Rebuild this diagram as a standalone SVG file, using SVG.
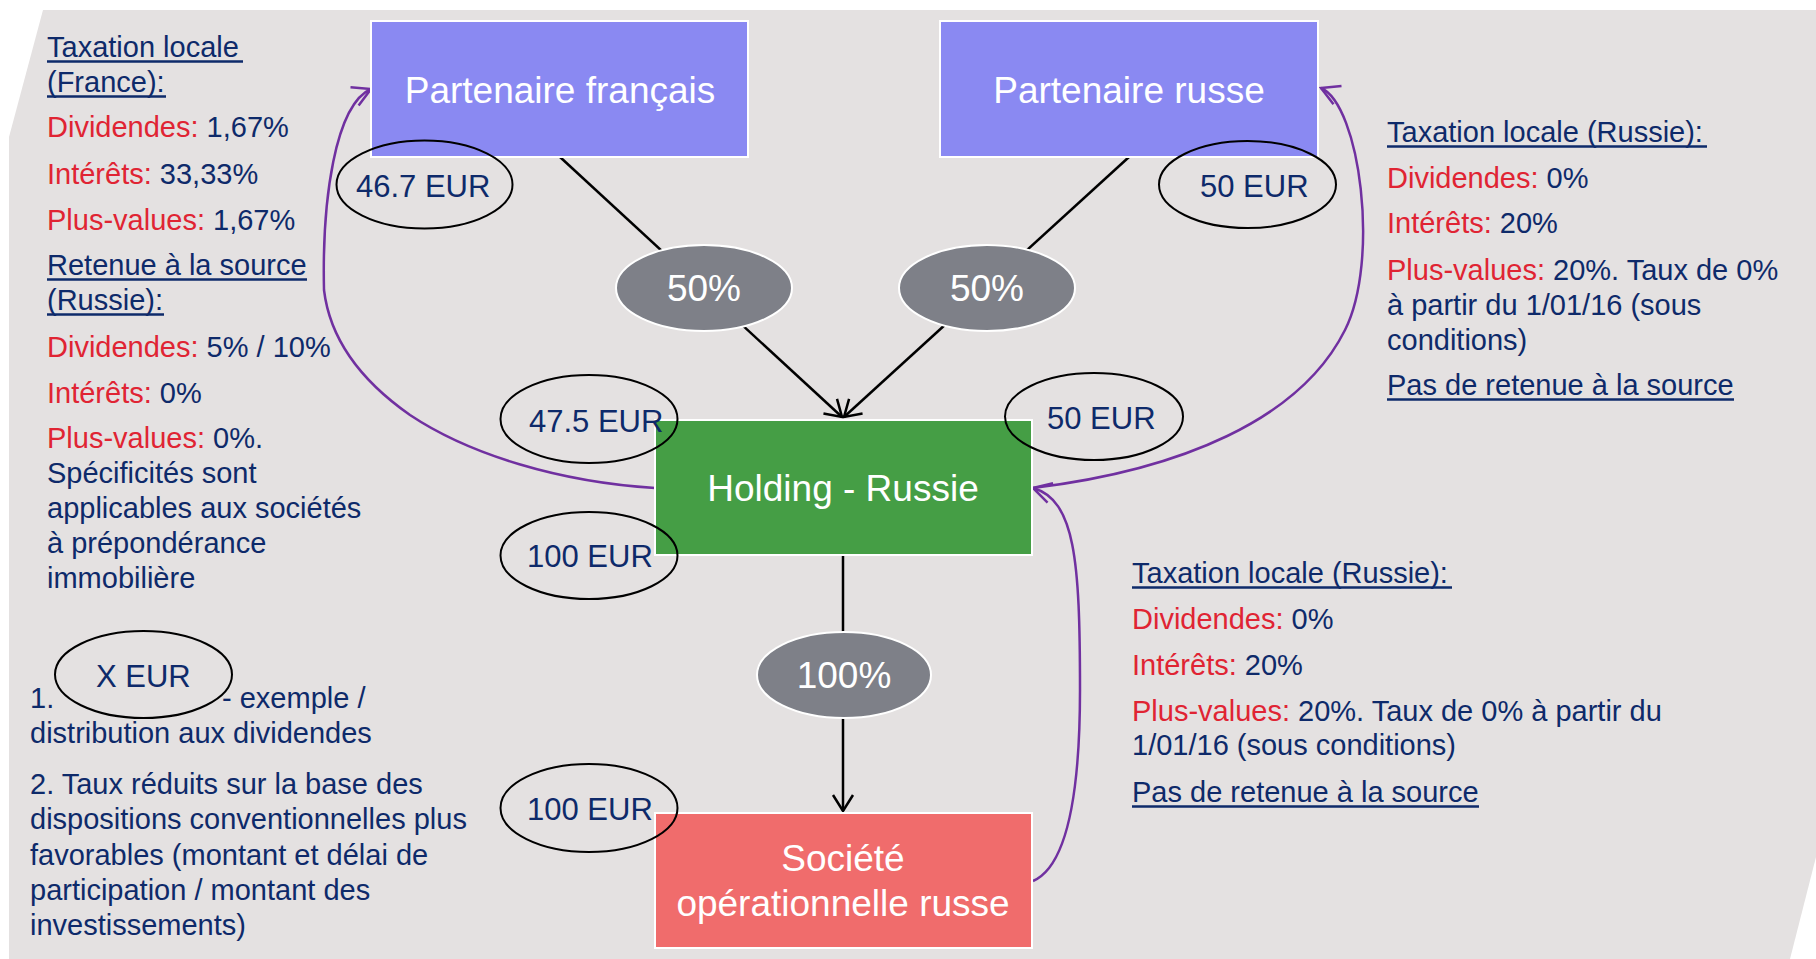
<svg xmlns="http://www.w3.org/2000/svg" width="1816" height="959" viewBox="0 0 1816 959">
  <style>
    .t { font-family: "Liberation Sans", Arial, sans-serif; font-size: 29px; fill: #0e2a6a; }
    .r { fill: #e02433; }
    .ul { stroke: #0e2a6a; stroke-width: 2.7; }
    .box-t { font-family: "Liberation Sans", Arial, sans-serif; font-size: 37px; fill: #ffffff; text-anchor: middle; }
    .eur { fill: none; stroke: #000000; stroke-width: 2; }
    .eur-t { font-family: "Liberation Sans", Arial, sans-serif; font-size: 31px; fill: #0e2a6a; }
    .pct { fill: #7e8088; stroke: #ffffff; stroke-width: 2; }
    .own { fill: none; stroke: #000000; stroke-width: 2.5; marker-end: url(#ah-black); }
    .flow { fill: none; stroke: #7030a0; stroke-width: 2.5; marker-end: url(#ah-purple); }
    .box { stroke: #ffffff; stroke-width: 2; }
  </style>
  <defs>
    <marker id="ah-black" viewBox="-20 -12 22 24" markerWidth="22" markerHeight="24" refX="0" refY="0" orient="auto" markerUnits="userSpaceOnUse">
      <path d="M-16,-10 L0,0 L-16,10" fill="none" stroke="#000000" stroke-width="2.5"/>
    </marker>
    <marker id="ah-purple" viewBox="-22 -13 24 26" markerWidth="24" markerHeight="26" refX="0" refY="0" orient="auto" markerUnits="userSpaceOnUse">
      <path d="M-18,-10 L0,0 L-18,10" fill="none" stroke="#7030a0" stroke-width="2.5"/>
    </marker>
  </defs>

  <!-- slide panel -->
  <polygon points="43,10 1816,10 1816,857 1790,959 9,959 9,137" fill="#e4e1e1"/>

  <!-- ownership links and dividend flows -->
  <g id="connectors">
    <line class="own" x1="560" y1="157" x2="842" y2="417"/>
    <line class="own" x1="1129" y1="157" x2="844" y2="417"/>
    <line class="own" x1="843" y1="555" x2="843" y2="811"/>
    <path class="flow" d="M655,488 C560,482 470,455 410,415 C360,380 330,340 324,290 C322,200 335,105 371,89"/>
    <path class="flow" d="M1033,488 C1180,470 1300,420 1345,330 C1380,260 1360,105 1321,88"/>
    <path class="flow" d="M1033,881 C1070,865 1080,780 1080,690 C1080,560 1075,500 1033,488"/>
  </g>

  <!-- entities -->
  <g id="partenaire-francais">
    <rect class="box" x="371" y="21" width="377" height="136" fill="#8a89f2"/>
    <text class="box-t" x="560" y="103">Partenaire français</text>
  </g>
  <g id="partenaire-russe">
    <rect class="box" x="940" y="21" width="378" height="136" fill="#8a89f2"/>
    <text class="box-t" x="1129" y="103">Partenaire russe</text>
  </g>
  <g id="holding-russie">
    <rect class="box" x="655" y="420" width="377" height="135" fill="#459e45"/>
    <text class="box-t" x="843" y="501">Holding - Russie</text>
  </g>
  <g id="societe-operationnelle">
    <rect class="box" x="655" y="813" width="377" height="135" fill="#f06c6c"/>
    <text class="box-t" x="843" y="871">Société</text>
    <text class="box-t" x="843" y="916">opérationnelle russe</text>
  </g>

  <!-- shareholding percentages -->
  <g id="pct-fr">
    <ellipse class="pct" cx="704" cy="288" rx="88" ry="43"/>
    <text class="box-t" x="704" y="301">50%</text>
  </g>
  <g id="pct-ru">
    <ellipse class="pct" cx="987" cy="288" rx="88" ry="43"/>
    <text class="box-t" x="987" y="301">50%</text>
  </g>
  <g id="pct-100">
    <ellipse class="pct" cx="844" cy="675" rx="87" ry="43"/>
    <text class="box-t" x="844" y="688">100%</text>
  </g>

  <!-- distributed amounts -->
  <g id="eur-fr">
    <ellipse class="eur" cx="424.5" cy="184.5" rx="88" ry="44"/>
    <text class="eur-t" x="356" y="197">46.7 EUR</text>
  </g>
  <g id="eur-ru">
    <ellipse class="eur" cx="1247.5" cy="184.5" rx="88.5" ry="43.5"/>
    <text class="eur-t" x="1200" y="197">50 EUR</text>
  </g>
  <g id="eur-holding-fr">
    <ellipse class="eur" cx="589" cy="419" rx="88.5" ry="44"/>
    <text class="eur-t" x="529" y="432">47.5 EUR</text>
  </g>
  <g id="eur-holding-ru">
    <ellipse class="eur" cx="1094" cy="416.5" rx="89" ry="43.5"/>
    <text class="eur-t" x="1047" y="429">50 EUR</text>
  </g>
  <g id="eur-holding">
    <ellipse class="eur" cx="589" cy="555.5" rx="88.5" ry="43.5"/>
    <text class="eur-t" x="527" y="567">100 EUR</text>
  </g>
  <g id="eur-societe">
    <ellipse class="eur" cx="589" cy="808" rx="88.5" ry="44"/>
    <text class="eur-t" x="527" y="820">100 EUR</text>
  </g>

  <!-- French partner taxation -->
  <g id="notes-france">
    <text class="t" x="47" y="57">Taxation locale</text>
    <line class="ul" x1="47" y1="61.5" x2="243" y2="61.5"/>
    <text class="t" x="47" y="92">(France):</text>
    <line class="ul" x1="47" y1="96.5" x2="166" y2="96.5"/>
    <text class="t" x="47" y="137"><tspan class="r">Dividendes:</tspan> 1,67%</text>
    <text class="t" x="47" y="184"><tspan class="r">Intérêts:</tspan> 33,33%</text>
    <text class="t" x="47" y="230"><tspan class="r">Plus-values:</tspan> 1,67%</text>
    <text class="t" x="47" y="275">Retenue à la source</text>
    <line class="ul" x1="47" y1="279.5" x2="307" y2="279.5"/>
    <text class="t" x="47" y="310">(Russie):</text>
    <line class="ul" x1="47" y1="314.5" x2="164" y2="314.5"/>
    <text class="t" x="47" y="357"><tspan class="r">Dividendes:</tspan> 5% / 10%</text>
    <text class="t" x="47" y="403"><tspan class="r">Intérêts:</tspan> 0%</text>
    <text class="t" x="47" y="448"><tspan class="r">Plus-values:</tspan> 0%.</text>
    <text class="t" x="47" y="483">Spécificités sont</text>
    <text class="t" x="47" y="518">applicables aux sociétés</text>
    <text class="t" x="47" y="553">à prépondérance</text>
    <text class="t" x="47" y="588">immobilière</text>
  </g>

  <!-- legend -->
  <g id="legend">
    <ellipse class="eur" cx="143.5" cy="674.5" rx="88.5" ry="43.5"/>
    <text class="eur-t" x="96" y="687">X EUR</text>
    <text class="t" x="30" y="708">1.</text>
    <text class="t" x="222" y="708">- exemple /</text>
    <text class="t" x="30" y="743">distribution aux dividendes</text>
    <text class="t" x="30" y="794">2. Taux réduits sur la base des</text>
    <text class="t" x="30" y="829">dispositions conventionnelles plus</text>
    <text class="t" x="30" y="865">favorables (montant et délai de</text>
    <text class="t" x="30" y="900">participation / montant des</text>
    <text class="t" x="30" y="935">investissements)</text>
  </g>

  <!-- Russian partner taxation -->
  <g id="notes-russie-partenaire">
    <text class="t" x="1387" y="142">Taxation locale (Russie):</text>
    <line class="ul" x1="1387" y1="146.5" x2="1707" y2="146.5"/>
    <text class="t" x="1387" y="188"><tspan class="r">Dividendes:</tspan> 0%</text>
    <text class="t" x="1387" y="233"><tspan class="r">Intérêts:</tspan> 20%</text>
    <text class="t" x="1387" y="280"><tspan class="r">Plus-values:</tspan> 20%. Taux de 0%</text>
    <text class="t" x="1387" y="315">à partir du 1/01/16 (sous</text>
    <text class="t" x="1387" y="350">conditions)</text>
    <text class="t" x="1387" y="395">Pas de retenue à la source</text>
    <line class="ul" x1="1387" y1="399.5" x2="1734" y2="399.5"/>
  </g>

  <!-- holding taxation -->
  <g id="notes-russie-holding">
    <text class="t" x="1132" y="583">Taxation locale (Russie):</text>
    <line class="ul" x1="1132" y1="587.5" x2="1452" y2="587.5"/>
    <text class="t" x="1132" y="629"><tspan class="r">Dividendes:</tspan> 0%</text>
    <text class="t" x="1132" y="675"><tspan class="r">Intérêts:</tspan> 20%</text>
    <text class="t" x="1132" y="721"><tspan class="r">Plus-values:</tspan> 20%. Taux de 0% à partir du</text>
    <text class="t" x="1132" y="755">1/01/16 (sous conditions)</text>
    <text class="t" x="1132" y="802">Pas de retenue à la source</text>
    <line class="ul" x1="1132" y1="806.5" x2="1479" y2="806.5"/>
  </g>
</svg>
